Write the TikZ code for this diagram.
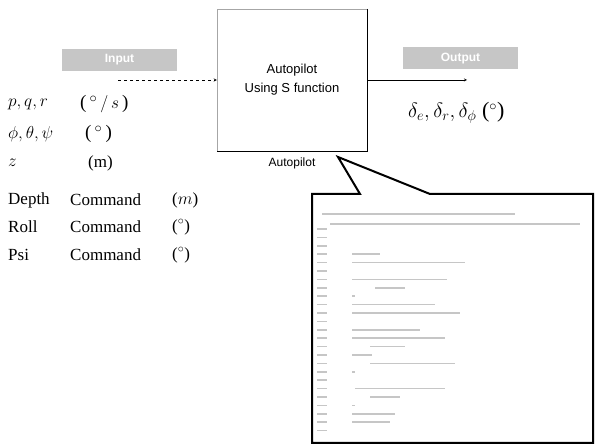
\documentclass[tikz,border=0pt]{standalone}
\usepackage{fontspec}
\setmainfont{Liberation Serif}
\setsansfont{Liberation Sans}
\usetikzlibrary{positioning, arrows}
\tikzset{
>=stealth, % arrow heads
x=1pt, y=-1pt, % work in pixels, y downwards
block/.style={draw=gray!70, minimum width=150pt, minimum height=142pt, align=center, font=\sffamily\fontsize{13}{19}\selectfont}, % the S function box
tag/.style={fill=gray!45, text=white, minimum width=115pt, minimum height=22pt, font=\sffamily\bfseries\fontsize{12}{14}\selectfont}, % Input / Output labels
sig/.style={anchor=west, inner sep=0pt, font=\fontsize{17}{20}\selectfont}, % signal list
mathsig/.style={sig, font=\fontsize{19}{22}\selectfont}, % signal symbols
codeline/.style={gray!45, line width=1.6pt}, % blurred source lines
}

\begin{document}
\begin{tikzpicture}
    \useasboundingbox (0,0) rectangle (595,446);

    \node[block] (ap) at (292,80) {Autopilot\\Using S function};
    \draw[thick] (ap.north east) -- (ap.south east) -- (ap.south west);
    \node[below=3pt of ap, font=\sffamily\fontsize{12}{14}\selectfont] (aplabel) {Autopilot};

    \node[tag] (input) at (119.5,60) {Input};
    \node[tag] (output) at (460.5,58.5) {Output};

    \coordinate (instart) at (118,80);
    \coordinate (outend) at (467,80);
    \draw[->, dashed] (instart) -- (ap.west |- instart);
    \draw[->] (ap.east |- outend) -- (outend);

    % input signals
    \node[mathsig] (pqr) at (8,104) {$p, q, r$};
    \node[mathsig] (pqru) at (80,104) {(\,$^\circ\,/\,s$\,)};
    \node[mathsig] (ang) at (8,134) {$\phi, \theta, \psi$};
    \node[mathsig] (angu) at (85,134) {(\,$^\circ$\,)};
    \node[mathsig] (z) at (8,163) {$z$};
    \node[sig] (zu) at (88,163) {(m)};
    \node[sig] (depth) at (8,200) {Depth};
    \node[sig] (depthc) at (70,200) {Command};
    \node[sig] (depthu) at (172,200) {($m$)};
    \node[sig] (roll) at (8,227) {Roll};
    \node[sig] (rollc) at (70,227) {Command};
    \node[sig] (rollu) at (172,227) {($^\circ$)};
    \node[sig] (psi) at (8,255) {Psi};
    \node[sig] (psic) at (70,255) {Command};
    \node[sig] (psiu) at (172,255) {($^\circ$)};

    % output signals
    \node[sig, font=\fontsize{22}{24}\selectfont] (defl) at (408,113) {$\delta_e, \delta_r, \delta_\phi$ ($^\circ$)};

    % code window with callout
    \coordinate (tip) at (338,157);
    \draw[line width=2pt, line join=miter] (312,194) -- (360,194) -- (tip) -- (430,194)
        -- (593,194) -- (593,443) -- (312,443) -- cycle;
    \draw[codeline] (322,214) -- (515,214);
    \draw[codeline] (330,224) -- (580,224);
    \foreach \i in {1,...,25}
        \draw[codeline] (317,{229+8.4*(\i-1)}) -- (327,{229+8.4*(\i-1)});
    \foreach \i/\a/\b in {4/352/380, 5/352/465, 7/352/447, 8/375/405, 9/352/355,
        10/352/435, 11/352/460, 13/352/420, 14/352/445, 15/370/405, 16/352/372,
        17/370/455, 18/352/355, 20/355/445, 21/370/400, 22/352/355, 23/352/395, 24/352/390}
        \draw[codeline] ({\a},{229+8.4*(\i-1)}) -- ({\b},{229+8.4*(\i-1)});
\end{tikzpicture}
\end{document}
